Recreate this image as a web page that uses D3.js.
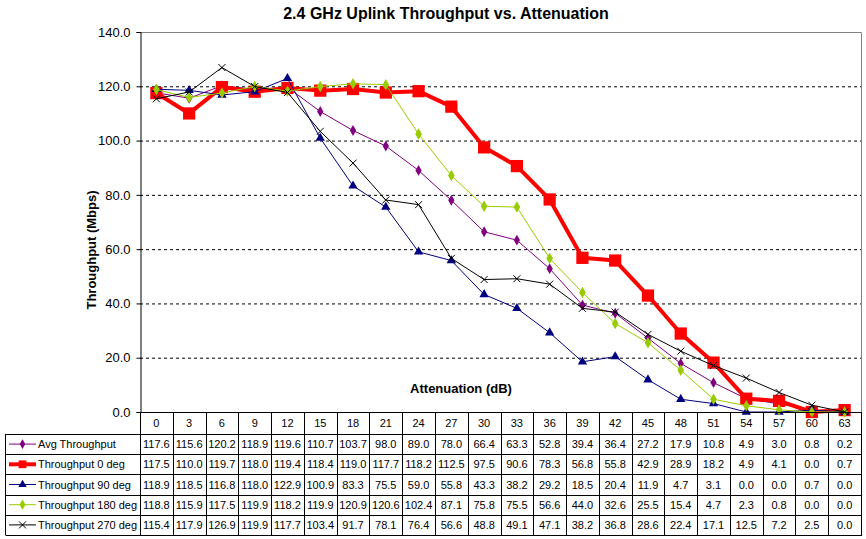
<!DOCTYPE html>
<html><head><meta charset="utf-8">
<script src="https://cdn.jsdelivr.net/npm/d3@7"></script>
<style>body{margin:0;background:#fff}svg{display:block;font-family:Arial,"Liberation Sans",sans-serif}</style>
</head><body><svg id="c" width="866" height="539"></svg>
<script>
const categories=[0,3,6,9,12,15,18,21,24,27,30,33,36,39,42,45,48,51,54,57,60,63];
const avgThroughput=[117.6,115.6,120.2,118.9,119.6,110.7,103.7,98.0,89.0,78.0,66.4,63.3,52.8,39.4,36.4,27.2,17.9,10.8,4.9,3.0,0.8,0.2];
const throughput0=[117.5,110.0,119.7,118.0,119.4,118.4,119.0,117.7,118.2,112.5,97.5,90.6,78.3,56.8,55.8,42.9,28.9,18.2,4.9,4.1,0.0,0.7];
const throughput90=[118.9,118.5,116.8,118.0,122.9,100.9,83.3,75.5,59.0,55.8,43.3,38.2,29.2,18.5,20.4,11.9,4.7,3.1,0.0,0.0,0.7,0.0];
const throughput180=[118.8,115.9,117.5,119.9,118.2,119.9,120.9,120.6,102.4,87.1,75.8,75.5,56.6,44.0,32.6,25.5,15.4,4.7,2.3,0.8,0.0,0.0];
const throughput270=[115.4,117.9,126.9,119.9,117.7,103.4,91.7,78.1,76.4,56.6,48.8,49.1,47.1,38.2,36.8,28.6,22.4,17.1,12.5,7.2,2.5,0.0];
const seriesNames=["Avg Throughput","Throughput 0 deg","Throughput 90 deg","Throughput 180 deg","Throughput 270 deg"];
const yTicks=[0,20,40,60,80,100,120,140];

const series=[
 {name:seriesNames[0],values:avgThroughput,color:"#800080",width:1,marker:"diamond",size:34},
 {name:seriesNames[1],values:throughput0,color:"#ff0000",width:4,marker:"square",size:150},
 {name:seriesNames[2],values:throughput90,color:"#000080",width:1,marker:"triangle",size:38},
 {name:seriesNames[3],values:throughput180,color:"#99cc00",width:1,marker:"diamond",size:38},
 {name:seriesNames[4],values:throughput270,color:"#000000",width:1,marker:"x",size:0}
];

const svg=d3.select("#c");
const L=140,R=861,T=32,B=412;
const x=d3.scaleBand().domain(categories).range([L,R]);
const y=d3.scaleLinear().domain([0,140]).range([B,T]);

// title
svg.append("text").attr("x",446).attr("y",19).attr("text-anchor","middle")
 .style("font-weight","bold").style("font-size","16px").text("2.4 GHz Uplink Throughput vs. Attenuation");

// gridlines
svg.append("g").selectAll("line").data(yTicks.filter(d=>d>0&&d<140)).join("line")
 .attr("x1",L).attr("x2",R).attr("y1",d=>y(d)+0.5).attr("y2",d=>y(d)+0.5)
 .attr("stroke","#000").attr("stroke-dasharray","3,3");
// border top/right
svg.append("path").attr("d",`M${L},${T+0.5}H${R+0.5}V${B}`).attr("fill","none").attr("stroke","#808080");

// y axis
const ya=svg.append("g").attr("transform",`translate(${L+0.5},0)`)
 .call(d3.axisLeft(y).tickValues(yTicks).tickFormat(d3.format(".1f")).tickSize(4).tickPadding(6));
ya.select(".domain").attr("stroke","#000");
ya.selectAll("text").style("font-size","13px").style("font-family","Arial,'Liberation Sans',sans-serif").attr("fill","#000");

svg.append("text").attr("transform","translate(96,250) rotate(-90)").attr("text-anchor","middle")
 .style("font-weight","bold").style("font-size","13px").text("Throughput (Mbps)");
svg.append("text").attr("x",461).attr("y",393).attr("text-anchor","middle")
 .style("font-weight","bold").style("font-size","13px").text("Attenuation (dB)");

function markerPath(m,s){
 const t={diamond:d3.symbolDiamond,square:d3.symbolSquare,triangle:d3.symbolTriangle}[m];
 return d3.symbol(t,s)();
}
function drawMarker(g,m,color,size,cx,cy){
 if(m==="x"){
  g.append("path").attr("d",`M${cx-3.5},${cy-3.5}L${cx+3.5},${cy+3.5}M${cx-3.5},${cy+3.5}L${cx+3.5},${cy-3.5}`)
   .attr("stroke",color).attr("stroke-width",1);
 } else {
  g.append("path").attr("d",markerPath(m,size)).attr("transform",`translate(${cx},${cy})`).attr("fill",color);
 }
}

const cx=d=>x(d)+x.bandwidth()/2;
const line=d3.line().x((d,i)=>cx(categories[i])).y(d=>y(d));
series.forEach(s=>{
 const g=svg.append("g");
 g.append("path").attr("d",line(s.values)).attr("fill","none").attr("stroke",s.color).attr("stroke-width",s.width).attr("stroke-linejoin","round");
 s.values.forEach((v,i)=>drawMarker(g,s.marker,s.color,s.size,cx(categories[i]),y(v)));
});

// data table
const rowTop=434,rowH=20.2,legL=5.5;
const tb=svg.append("g").style("font-size","11px");
const nRows=series.length;
const tableBottom=rowTop+rowH*nRows;
categories.forEach((c,i)=>{
 tb.append("line").attr("x1",Math.round(x(c))+0.5).attr("x2",Math.round(x(c))+0.5).attr("y1",B).attr("y2",tableBottom).attr("stroke","#000");
 tb.append("text").attr("x",cx(c)).attr("y",B+15).attr("text-anchor","middle").text(c);
});
tb.append("line").attr("x1",R+0.5).attr("x2",R+0.5).attr("y1",B).attr("y2",tableBottom).attr("stroke","#000");
tb.append("line").attr("x1",L).attr("x2",R+1).attr("y1",B+0.5).attr("y2",B+0.5).attr("stroke","#000");
tb.append("line").attr("x1",legL).attr("x2",legL).attr("y1",rowTop).attr("y2",tableBottom).attr("stroke","#000");
for(let r=0;r<=nRows;r++){
 const yy=Math.round(rowTop+r*rowH)+0.5;
 tb.append("line").attr("x1",legL).attr("x2",R+1).attr("y1",yy).attr("y2",yy).attr("stroke","#000");
}
series.forEach((s,r)=>{
 const ym=rowTop+r*rowH+rowH/2;
 const lg=tb.append("g");
 lg.append("line").attr("x1",9).attr("x2",36).attr("y1",ym).attr("y2",ym).attr("stroke",s.color).attr("stroke-width",s.width);
 drawMarker(lg,s.marker,s.color,s.marker==="square"?60:s.size*0.8,22.5,ym);
 tb.append("text").attr("x",38).attr("y",ym+4).text(s.name);
 s.values.forEach((v,i)=>{
  tb.append("text").attr("x",cx(categories[i])).attr("y",ym+4).attr("text-anchor","middle").text(d3.format(".1f")(v));
 });
});
</script></body></html>
